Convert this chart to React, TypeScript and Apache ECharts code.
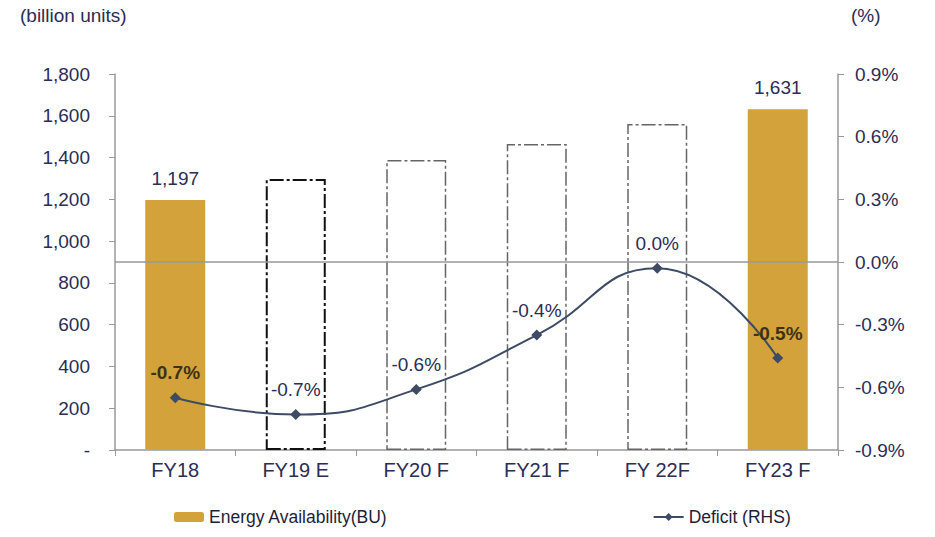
import React, { useEffect, useRef } from "react";
import * as echarts from "echarts";

const categories = ["FY18", "FY19 E", "FY20 F", "FY21 F", "FY 22F", "FY23 F"];
const energyAvailability = [1197, 1297, 1388, 1465, 1561, 1631];
const isActual = [true, false, false, false, false, true];
const deficit = [-0.65, -0.73, -0.61, -0.35, -0.03, -0.46];
const deficitLabels = ["-0.7%", "-0.7%", "-0.6%", "-0.4%", "0.0%", "-0.5%"];
const leftTicks = { min: 0, max: 1800, interval: 200 };
const rightTicks = { min: -0.9, max: 0.9, interval: 0.3 };

const FONT = "'Liberation Sans', Arial, sans-serif";
const TEXT = "#2b2d55";
const GOLD = "#d4a23a";
const LINE = "#3e4b65";
const FS = 19;

export default function App() {
  const ref = useRef<HTMLDivElement>(null);
  useEffect(() => {
    if (!ref.current) return;
    const chart = echarts.init(ref.current, undefined, { renderer: "svg" });
    const barData = energyAvailability.map((v, i) =>
      isActual[i]
        ? {
            value: v,
            itemStyle: { color: GOLD },
            label: {
              show: true,
              position: "top",
              distance: 12,
              color: TEXT,
              fontSize: FS,
              fontFamily: FONT,
              formatter: (p: any) => Number(p.value).toLocaleString("en-US"),
            },
          }
        : {
            value: v,
            itemStyle: {
              color: "#ffffff",
              borderColor: i === 1 ? "#111111" : "#666666",
              borderWidth: i === 1 ? 2 : 1.5,
              borderType: [14, 3, 3, 3],
            },
          }
    );
    const lineData = deficit.map((v, i) => ({
      value: v,
      label: {
        show: true,
        position: "top",
        distance: 10,
        formatter: deficitLabels[i],
        fontSize: FS,
        fontFamily: FONT,
        color: isActual[i] ? "#3d3216" : TEXT,
        fontWeight: isActual[i] ? "bold" : "normal",
      },
    }));
    chart.setOption({
      animation: false,
      backgroundColor: "#ffffff",
      textStyle: { fontFamily: FONT },
      grid: { left: 115, right: 97, top: 74, bottom: 87 },
      graphic: [
        {
          type: "text",
          left: 20,
          top: 6,
          style: { text: "(billion units)", fontSize: FS, fontFamily: FONT, fill: TEXT },
        },
        {
          type: "text",
          left: 851,
          top: 6,
          style: { text: "(%)", fontSize: FS, fontFamily: FONT, fill: TEXT },
        },
      ],
      legend: {
        left: 169,
        bottom: 6,
        itemGap: 265,
        itemWidth: 30,
        itemHeight: 10,
        textStyle: { fontSize: 17.5, fontFamily: FONT, color: "#1e1e3a" },
        data: [
          { name: "Energy Availability(BU)", itemStyle: { color: GOLD, borderWidth: 0 } },
          { name: "Deficit (RHS)" },
        ],
      },
      xAxis: {
        type: "category",
        data: categories,
        axisLine: { lineStyle: { color: "#999999", width: 1.5 } },
        axisTick: { show: true, length: 6, lineStyle: { color: "#999999" } },
        axisLabel: { fontSize: 20, fontFamily: FONT, color: TEXT, margin: 10 },
      },
      yAxis: [
        {
          type: "value",
          min: leftTicks.min,
          max: leftTicks.max,
          interval: leftTicks.interval,
          axisLine: { show: true, lineStyle: { color: "#999999", width: 1.5 } },
          axisTick: { show: true, length: 6, lineStyle: { color: "#999999" } },
          splitLine: { show: false },
          axisLabel: {
            fontSize: FS,
            fontFamily: FONT,
            color: TEXT,
            margin: 25,
            formatter: (v: number) => (v === 0 ? "-" : v.toLocaleString("en-US")),
          },
        },
        {
          type: "value",
          min: rightTicks.min,
          max: rightTicks.max,
          interval: rightTicks.interval,
          position: "right",
          axisLine: { show: true, lineStyle: { color: "#999999", width: 1.5 } },
          axisTick: { show: true, length: 6, lineStyle: { color: "#999999" } },
          splitLine: { show: false },
          axisLabel: {
            fontSize: FS,
            fontFamily: FONT,
            color: TEXT,
            margin: 17,
            formatter: (v: number) => (Math.abs(v) < 1e-9 ? "0.0" : v.toFixed(1)) + "%",
          },
        },
      ],
      series: [
        {
          name: "Energy Availability(BU)",
          type: "bar",
          barWidth: 60,
          yAxisIndex: 0,
          itemStyle: { color: GOLD },
          data: barData,
        },
        {
          name: "Deficit (RHS)",
          type: "line",
          yAxisIndex: 1,
          smooth: true,
          symbol: "diamond",
          symbolSize: 11,
          lineStyle: { color: LINE, width: 2 },
          itemStyle: { color: LINE },
          data: lineData,
          markLine: {
            silent: true,
            symbol: "none",
            label: { show: false },
            lineStyle: { color: "#999999", type: "solid", width: 1.5 },
            data: [{ yAxis: 0 }],
          },
        },
      ],
    });
    return () => chart.dispose();
  }, []);
  return <div ref={ref} style={{ width: 935, height: 537, margin: -8 }} />;
}
